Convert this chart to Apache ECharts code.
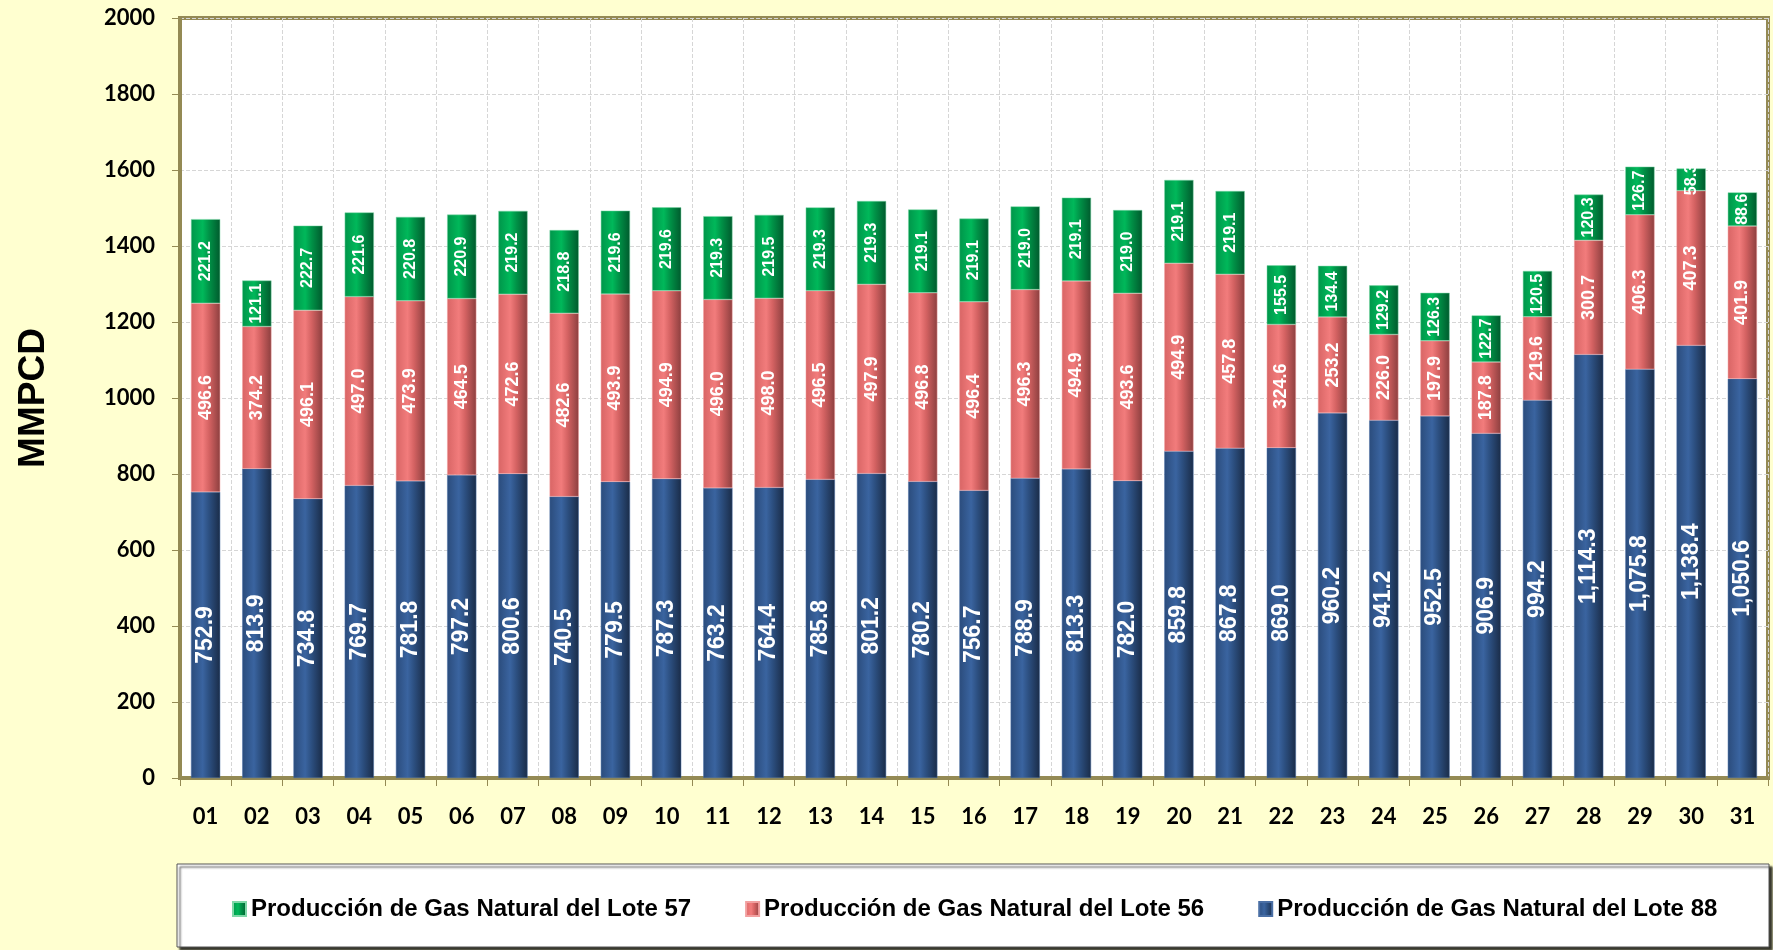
<!DOCTYPE html>
<html>
<head>
<meta charset="utf-8">
<title>Producción de Gas Natural</title>
<script src="https://cdn.jsdelivr.net/npm/echarts@6/dist/echarts.min.js"></script>
<style>
    html, body { margin: 0; padding: 0; background: #FFFFD0; }
    #chart { width: 1773px; height: 950px; }
</style>
</head>
<body>
<div id="chart"></div>
<script>
// dias del mes
const days = ['01','02','03','04','05','06','07','08','09','10','11','12','13','14','15','16',
              '17','18','19','20','21','22','23','24','25','26','27','28','29','30','31'];

const lote88 = [752.9, 813.9, 734.8, 769.7, 781.8, 797.2, 800.6, 740.5, 779.5, 787.3, 763.2,
                764.4, 785.8, 801.2, 780.2, 756.7, 788.9, 813.3, 782.0, 859.8, 867.8, 869.0,
                960.2, 941.2, 952.5, 906.9, 994.2, 1114.3, 1075.8, 1138.4, 1050.6];
const lote56 = [496.6, 374.2, 496.1, 497.0, 473.9, 464.5, 472.6, 482.6, 493.9, 494.9, 496.0,
                498.0, 496.5, 497.9, 496.8, 496.4, 496.3, 494.9, 493.6, 494.9, 457.8, 324.6,
                253.2, 226.0, 197.9, 187.8, 219.6, 300.7, 406.3, 407.3, 401.9];
const lote57 = [221.2, 121.1, 222.7, 221.6, 220.8, 220.9, 219.2, 218.8, 219.6, 219.6, 219.3,
                219.5, 219.3, 219.3, 219.1, 219.1, 219.0, 219.1, 219.0, 219.1, 219.1, 155.5,
                134.4, 129.2, 126.3, 122.7, 120.5, 120.3, 126.7, 58.3, 88.6];

const names = {
    l57: 'Producción de Gas Natural del Lote 57',
    l56: 'Producción de Gas Natural del Lote 56',
    l88: 'Producción de Gas Natural del Lote 88'
};

const olive = '#948A54';

function bevel(stops) {
    return {
        type: 'linear', x: 0, y: 0, x2: 1, y2: 0,
        colorStops: [
            { offset: 0, color: stops[0] },
            { offset: 0.4, color: stops[1] },
            { offset: 0.62, color: stops[2] },
            { offset: 1, color: stops[3] }
        ]
    };
}

function lbl(size, fmt) {
    return {
        show: true,
        position: 'inside',
        rotate: 90,
        color: '#fff',
        fontFamily: 'Liberation Sans, Arial, sans-serif',
        fontWeight: 'bold',
        fontSize: size,
        formatter: fmt
    };
}

const fmt1 = p => p.value.toFixed(1);
const fmtK = p => p.value.toLocaleString('en-US', { minimumFractionDigits: 1, maximumFractionDigits: 1 });

let mycharts = echarts.init(document.getElementById('chart'));
let option = {
    backgroundColor: '#FFFFD0',
    animation: false,
    grid: {
        left: 180,
        right: 5,
        top: 18,
        bottom: 172,
        show: true,
        backgroundColor: '#fff',
        borderColor: olive,
        borderWidth: 4
    },
    legend: {
        data: [names.l57, names.l56, names.l88],
        left: 227,
        top: 892,
        icon: 'rect',
        itemWidth: 13,
        itemHeight: 14,
        itemGap: 54,
        textStyle: {
            fontFamily: 'Liberation Sans, Arial, sans-serif',
            fontWeight: 'bold',
            fontSize: 24,
            color: '#000'
        }
    },
    graphic: [{
        type: 'rect',
        z: -1,
        shape: { x: 177, y: 864, width: 1592, height: 83 },
        style: {
            fill: '#fff',
            stroke: '#555',
            lineWidth: 1,
            shadowColor: 'rgba(0,0,0,0.8)',
            shadowOffsetX: 3,
            shadowOffsetY: 3,
            shadowBlur: 2
        }
    }],
    xAxis: {
        type: 'category',
        data: days,
        axisLine: { show: true, lineStyle: { color: olive, width: 4 } },
        axisTick: { show: true, length: 8, lineStyle: { color: olive } },
        axisLabel: {
            margin: 28,
            color: '#000',
            fontFamily: 'Lato',
            fontWeight: 'bold',
            fontSize: 22
        },
        splitLine: { show: true, lineStyle: { color: '#D6D6D6', type: 'dashed' } }
    },
    yAxis: {
        type: 'value',
        min: 0,
        max: 2000,
        interval: 200,
        name: 'MMPCD',
        nameLocation: 'middle',
        nameRotate: 90,
        nameGap: 128,
        nameTextStyle: {
            fontFamily: 'Liberation Sans, Arial, sans-serif',
            fontWeight: 'bold',
            fontSize: 37,
            color: '#000'
        },
        axisLine: { show: true, lineStyle: { color: olive, width: 4 } },
        axisTick: { show: true, length: 8, lineStyle: { color: olive } },
        axisLabel: {
            margin: 25,
            color: '#000',
            fontFamily: 'Lato',
            fontWeight: 'bold',
            fontSize: 22,
            formatter: v => String(v)
        },
        splitLine: { show: true, lineStyle: { color: '#D6D6D6', type: 'dashed' } }
    },
    series: [
        {
            name: names.l88,
            type: 'bar',
            stack: 'gas',
            barWidth: '57%',
            data: lote88,
            itemStyle: {
                color: bevel(['#2B4C7C', '#3A64A0', '#2C4F80', '#1A2C48']),
                borderColor: '#4A6FA5',
                borderWidth: 0.5
            },
            label: lbl(23, fmtK)
        },
        {
            name: names.l56,
            type: 'bar',
            stack: 'gas',
            data: lote56,
            itemStyle: {
                color: bevel(['#D86565', '#F27C7C', '#D46262', '#8C3F3F']),
                borderColor: '#F2A0A0',
                borderWidth: 0.5
            },
            label: lbl(18, fmt1)
        },
        {
            name: names.l57,
            type: 'bar',
            stack: 'gas',
            data: lote57,
            itemStyle: {
                color: bevel(['#00954A', '#00B85A', '#009247', '#005A2D']),
                borderColor: '#7FD8A8',
                borderWidth: 0.5
            },
            label: lbl(16, fmt1)
        }
    ]
};
mycharts.setOption(option);
window.addEventListener('resize', function () {
    mycharts.resize();
});
</script>
</body>
</html>
